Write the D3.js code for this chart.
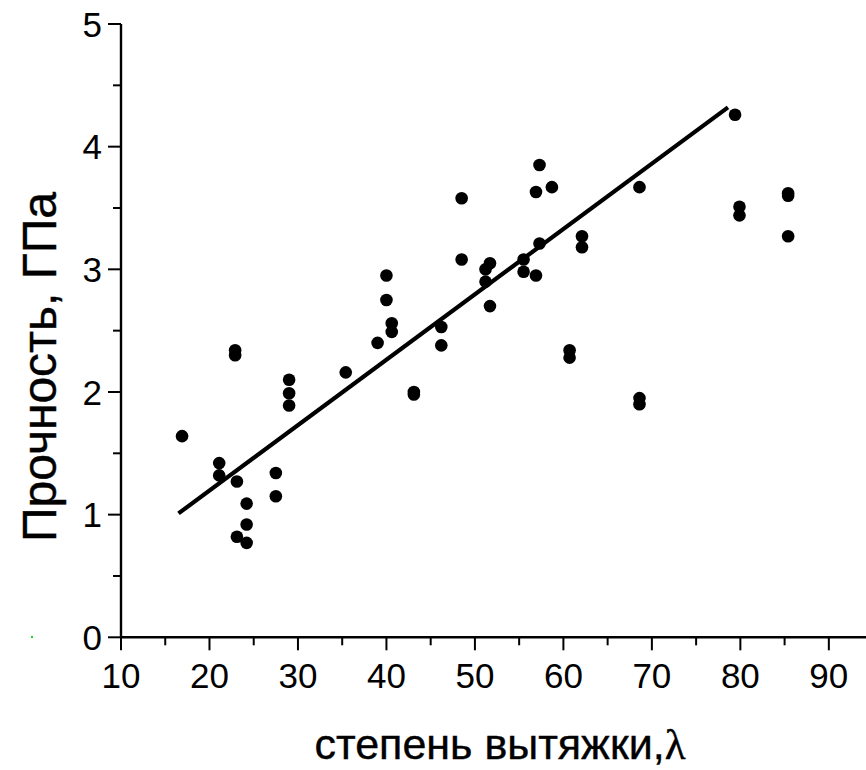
<!DOCTYPE html>
<html>
<head>
<meta charset="utf-8">
<script src="https://cdn.jsdelivr.net/npm/d3@7"></script>
<style>
  html, body { margin: 0; padding: 0; background: #fff; }
  svg { display: block; }
  text { font-family: "Liberation Sans", Arial, sans-serif; fill: #000; }
</style>
</head>
<body>
<svg id="chart" width="866" height="770"></svg>
<script>
// ---- data ----
const drawRatio = [16.9, 21.1, 21.1, 22.9, 22.9, 23.1, 23.1, 24.2, 24.2, 24.2,
  27.5, 27.5, 29.0, 29.0, 29.0, 35.4, 39.0, 40.0, 40.0, 40.6, 40.6, 43.1, 43.1,
  46.2, 46.2, 48.5, 48.5, 51.2, 51.2, 51.7, 51.7, 55.5, 55.5, 56.9, 56.9, 57.3,
  57.3, 58.7, 60.7, 60.7, 62.1, 62.1, 68.6, 68.6, 68.6, 79.4, 79.9, 79.9, 85.4,
  85.4, 85.4];
const strength = [1.64, 1.42, 1.32, 2.34, 2.30, 1.27, 0.82, 1.09, 0.92, 0.77,
  1.34, 1.15, 2.10, 1.99, 1.89, 2.16, 2.40, 2.95, 2.75, 2.56, 2.49, 2.00, 1.98,
  2.53, 2.38, 3.58, 3.08, 3.00, 2.90, 3.05, 2.70, 3.08, 2.98, 3.63, 2.95, 3.85,
  3.21, 3.67, 2.34, 2.28, 3.27, 3.18, 3.67, 1.95, 1.90, 4.26, 3.51, 3.44, 3.62,
  3.60, 3.27];
const fitX = [16.5, 78.6];
const fitY = [1.01, 4.32];
const xTicks = [10, 20, 30, 40, 50, 60, 70, 80, 90];
const yTicks = [0, 1, 2, 3, 4, 5];
const xTitle = "степень вытяжки,";
const xTitleSymbol = "λ";
const yTitle = "Прочность, ГПа";

// ---- drawing ----
const svg = d3.select("#chart");
const x = d3.scaleLinear().domain([10, 94.2]).range([121, 866]);
const y = d3.scaleLinear().domain([0, 5]).range([637.3, 24]);

// minor ticks
const xMinor = d3.range(15, 94, 10);
const yMinor = d3.range(0.5, 5, 1);

const gx = svg.append("g").attr("transform", `translate(0,${y(0)})`);
gx.append("line").attr("x1", x(10)).attr("x2", 866).attr("stroke", "#000").attr("stroke-width", 2.4);
gx.selectAll("line.major").data(xTicks).join("line").attr("class", "major")
  .attr("x1", d => x(d)).attr("x2", d => x(d)).attr("y1", 0).attr("y2", 13)
  .attr("stroke", "#000").attr("stroke-width", 2);
gx.selectAll("line.minor").data(xMinor).join("line").attr("class", "minor")
  .attr("x1", d => x(d)).attr("x2", d => x(d)).attr("y1", 0).attr("y2", 8)
  .attr("stroke", "#000").attr("stroke-width", 2);
gx.selectAll("text").data(xTicks).join("text")
  .attr("x", d => x(d)).attr("y", 51)
  .attr("text-anchor", "middle").attr("font-size", 35)
  .text(d => d);

const gy = svg.append("g").attr("transform", `translate(${x(10)},0)`);
gy.append("line").attr("y1", y(0)).attr("y2", y(5)).attr("stroke", "#000").attr("stroke-width", 2.4);
gy.selectAll("line.major").data(yTicks).join("line").attr("class", "major")
  .attr("y1", d => y(d)).attr("y2", d => y(d)).attr("x1", 0).attr("x2", -13)
  .attr("stroke", "#000").attr("stroke-width", 2);
gy.selectAll("line.minor").data(yMinor).join("line").attr("class", "minor")
  .attr("y1", d => y(d)).attr("y2", d => y(d)).attr("x1", 0).attr("x2", -8)
  .attr("stroke", "#000").attr("stroke-width", 2);
gy.selectAll("text").data(yTicks).join("text")
  .attr("x", -19).attr("y", d => y(d)).attr("dy", "0.36em")
  .attr("text-anchor", "end").attr("font-size", 35)
  .text(d => d);

// fit line
svg.append("line")
  .attr("x1", x(fitX[0])).attr("y1", y(fitY[0]))
  .attr("x2", x(fitX[1])).attr("y2", y(fitY[1]))
  .attr("stroke", "#000").attr("stroke-width", 4.2);

// points
const pts = drawRatio.map((d, i) => [d, strength[i]]);
svg.append("g").selectAll("circle").data(pts).join("circle")
  .attr("cx", d => x(d[0])).attr("cy", d => y(d[1])).attr("r", 6.3)
  .attr("fill", "#000");

// stray green speck in the reference
svg.append("circle").attr("cx", 32).attr("cy", 637).attr("r", 1.2).attr("fill", "#3c3");

// axis titles
const xt = svg.append("text").attr("x", 500).attr("y", 759)
  .attr("text-anchor", "middle").attr("font-size", 43)
  .attr("stroke", "#000").attr("stroke-width", 0.4);
xt.append("tspan").text(xTitle);
xt.append("tspan").attr("font-family", "'Liberation Serif', 'DejaVu Serif', serif").text(xTitleSymbol);

svg.append("text")
  .attr("transform", `translate(56,367) rotate(-90)`)
  .attr("text-anchor", "middle").attr("font-size", 48)
  .attr("stroke", "#000").attr("stroke-width", 0.4)
  .text(yTitle);
</script>
</body>
</html>
